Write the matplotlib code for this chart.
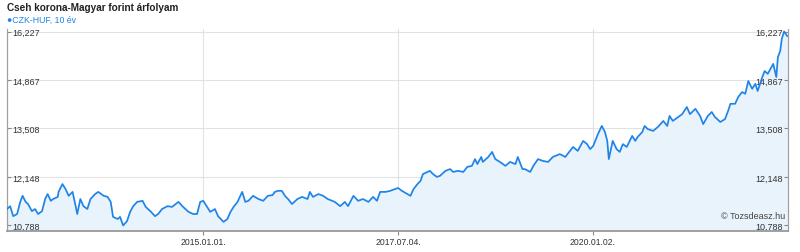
import numpy as np
import pandas as pd
import matplotlib
matplotlib.use("Agg")
import matplotlib.pyplot as plt
import matplotlib.dates as mdates

# CZK-HUF rate, x as decimal years
years = [
    2012.48, 2012.52, 2012.56, 2012.61, 2012.65, 2012.68, 2012.72, 2012.75, 2012.80, 2012.84,
    2012.88, 2012.93, 2012.97, 2013.00, 2013.04, 2013.07, 2013.13, 2013.14, 2013.19, 2013.23,
    2013.27, 2013.32, 2013.36, 2013.38, 2013.42, 2013.46, 2013.51, 2013.55, 2013.61, 2013.65,
    2013.72, 2013.77, 2013.81, 2013.84, 2013.90, 2013.93, 2013.97, 2014.02, 2014.06, 2014.10,
    2014.15, 2014.22, 2014.26, 2014.32, 2014.38, 2014.42, 2014.47, 2014.54, 2014.60, 2014.68,
    2014.74, 2014.81, 2014.87, 2014.92, 2014.96, 2015.00, 2015.05, 2015.09, 2015.15, 2015.19,
    2015.26, 2015.31, 2015.35, 2015.39, 2015.44, 2015.50, 2015.54, 2015.58, 2015.64, 2015.71,
    2015.77, 2015.83, 2015.89, 2015.92, 2015.96, 2016.01, 2016.05, 2016.09, 2016.14, 2016.21,
    2016.27, 2016.34, 2016.37, 2016.41, 2016.48, 2016.54, 2016.60, 2016.69, 2016.76, 2016.82,
    2016.86, 2016.93, 2016.99, 2017.05, 2017.12, 2017.18, 2017.23, 2017.27, 2017.34, 2017.40,
    2017.46, 2017.50, 2017.55, 2017.62, 2017.66, 2017.70, 2017.75, 2017.79, 2017.82, 2017.88,
    2017.91, 2017.95, 2018.00, 2018.04, 2018.11, 2018.17, 2018.21, 2018.27, 2018.34, 2018.39,
    2018.45, 2018.49, 2018.52, 2018.57, 2018.59, 2018.66, 2018.71, 2018.75, 2018.81, 2018.88,
    2018.94, 2019.01, 2019.04, 2019.10, 2019.13, 2019.20, 2019.24, 2019.30, 2019.36, 2019.43,
    2019.49, 2019.58, 2019.65, 2019.71, 2019.75, 2019.81, 2019.88, 2019.93, 2019.97, 2020.01,
    2020.07, 2020.12, 2020.16, 2020.19, 2020.21, 2020.26, 2020.31, 2020.35, 2020.39, 2020.44,
    2020.51, 2020.55, 2020.58, 2020.64, 2020.67, 2020.71, 2020.78, 2020.84, 2020.91, 2020.96,
    2020.99, 2021.03, 2021.10, 2021.15, 2021.21, 2021.25, 2021.32, 2021.38, 2021.42, 2021.48,
    2021.53, 2021.57, 2021.64, 2021.70, 2021.74, 2021.77, 2021.83, 2021.87, 2021.92, 2021.96,
    2022.00, 2022.05, 2022.09, 2022.12, 2022.18, 2022.21, 2022.25, 2022.32, 2022.36, 2022.38,
    2022.41, 2022.43, 2022.46, 2022.50,
]
rates = [
    11.25, 11.33, 11.05, 11.11, 11.45, 11.62, 11.45, 11.39, 11.19, 11.25,
    11.11, 11.19, 11.53, 11.67, 11.48, 11.53, 11.59, 11.73, 11.95, 11.81,
    11.62, 11.73, 11.33, 11.11, 11.53, 11.33, 11.25, 11.53, 11.67, 11.73,
    11.62, 11.59, 11.45, 11.03, 10.97, 11.03, 10.788, 10.91, 11.17, 11.33,
    11.45, 11.48, 11.31, 11.19, 11.05, 11.11, 11.25, 11.33, 11.31, 11.45,
    11.31, 11.17, 11.11, 11.11, 11.45, 11.48, 11.31, 11.17, 11.25, 11.05,
    10.89, 10.97, 11.17, 11.31, 11.45, 11.73, 11.45, 11.48, 11.62, 11.53,
    11.48, 11.62, 11.64, 11.73, 11.76, 11.76, 11.62, 11.53, 11.39, 11.53,
    11.59, 11.53, 11.73, 11.59, 11.67, 11.62, 11.53, 11.45, 11.33, 11.45,
    11.33, 11.62, 11.48, 11.53, 11.45, 11.59, 11.48, 11.73, 11.73, 11.76,
    11.81, 11.84, 11.76, 11.67, 11.62, 11.81, 11.95, 12.04, 12.23, 12.29,
    12.32, 12.23, 12.15, 12.18, 12.32, 12.37, 12.29, 12.32, 12.29, 12.43,
    12.46, 12.65, 12.51, 12.71, 12.57, 12.71, 12.85, 12.65, 12.57, 12.46,
    12.57, 12.51, 12.71, 12.37, 12.37, 12.29, 12.46, 12.65, 12.60, 12.57,
    12.71, 12.79, 12.71, 12.88, 12.99, 12.88, 13.16, 13.07, 12.93, 13.02,
    13.35, 13.58, 13.41, 13.16, 12.65, 13.16, 12.93, 12.85, 13.07, 12.99,
    13.30, 13.16, 13.27, 13.41, 13.58, 13.49, 13.44, 13.55, 13.72, 13.58,
    13.86, 13.72, 13.83, 13.91, 14.11, 13.91, 14.06, 13.86, 13.63, 13.86,
    13.97, 13.83, 13.69, 13.77, 14.00, 14.20, 14.20, 14.39, 14.53, 14.48,
    14.84, 14.62, 14.76, 14.56, 14.95, 15.12, 15.04, 15.32, 14.95, 15.51,
    15.68, 16.02, 16.227, 16.10,
]
tick_dates = ["2015-01-01", "2017-07-04", "2020-01-02"]

title = "Cseh korona-Magyar forint árfolyam"
series_name = "CZK-HUF, 10 év"
credit = "© Tozsdeasz.hu"

LINE = "#1f84e8"
FILL = "#e8f3fc"
GRID = "#e2e2e2"
FONT = ["Liberation Sans", "DejaVu Sans"]


def year_to_date(y):
    yr = int(y)
    return pd.Timestamp(year=yr, month=1, day=1) + pd.Timedelta(days=(y - yr) * 365.25)


def main():
    plt.rcParams["font.family"] = FONT
    dates = [year_to_date(y) for y in years]
    vals = np.array(rates)
    lo, hi = vals.min(), vals.max()
    span = hi - lo
    ymin = lo - span * 5.5 / 194
    ymax = hi + span * 2.5 / 194

    fig = plt.figure(figsize=(8, 2.53), dpi=100)
    ax = fig.add_axes([7 / 800, 21 / 253, 781 / 800, 202 / 253])

    yt = np.linspace(lo, hi, 5)
    xt = pd.to_datetime(tick_dates)

    # grid under the fill, tick labels above it
    for v in yt:
        ax.axhline(v, color=GRID, lw=0.8, zorder=0.5)
    for d in xt:
        ax.axvline(d, color=GRID, lw=0.8, zorder=0.5)

    ax.fill_between(dates, vals, ymin, color=FILL, lw=0, zorder=1)
    ax.plot(dates, vals, color=LINE, lw=1.25, zorder=3)
    ax.set_xlim(dates[0], year_to_date(2022.51))
    ax.set_ylim(ymin, ymax)

    ax.set_yticks(yt)
    ax.set_yticklabels([f"{v:.3f}".replace(".", ",") for v in yt])
    ax.tick_params(axis="y", direction="in", length=3, color="#888",
                   left=True, right=True, labelleft=True, labelright=True,
                   labelsize=6.5, labelcolor="#333", pad=-3.5)
    for t in ax.yaxis.get_major_ticks():
        t.label1.set_horizontalalignment("left")
        t.label2.set_horizontalalignment("right")

    ax.set_xticks(xt)
    ax.xaxis.set_major_formatter(mdates.DateFormatter("%Y.%m.%d."))
    ax.tick_params(axis="x", direction="out", length=3, color="#888",
                   labelsize=6.2, labelcolor="#333", pad=1.5)

    ax.spines["top"].set_visible(False)
    for side in ["left", "right"]:
        ax.spines[side].set_color("#a0a0a0")
        ax.spines[side].set_linewidth(0.9)
    ax.spines["bottom"].set_color("#999")
    ax.spines["bottom"].set_linewidth(1.3)

    ax.text(0.996, 0.079, credit, transform=ax.transAxes, ha="right", va="center",
            fontsize=6.5, color="#444")

    fig.text(7 / 800, 1 - 8 / 253, title, fontsize=7.2, fontweight="bold",
             color="#222", va="center", ha="left")
    fig.text(7 / 800, 1 - 20 / 253, "●" + series_name, fontsize=6.3, color=LINE,
             va="center", ha="left")

    fig.savefig("out.png", dpi=100)


if __name__ == "__main__":
    main()
